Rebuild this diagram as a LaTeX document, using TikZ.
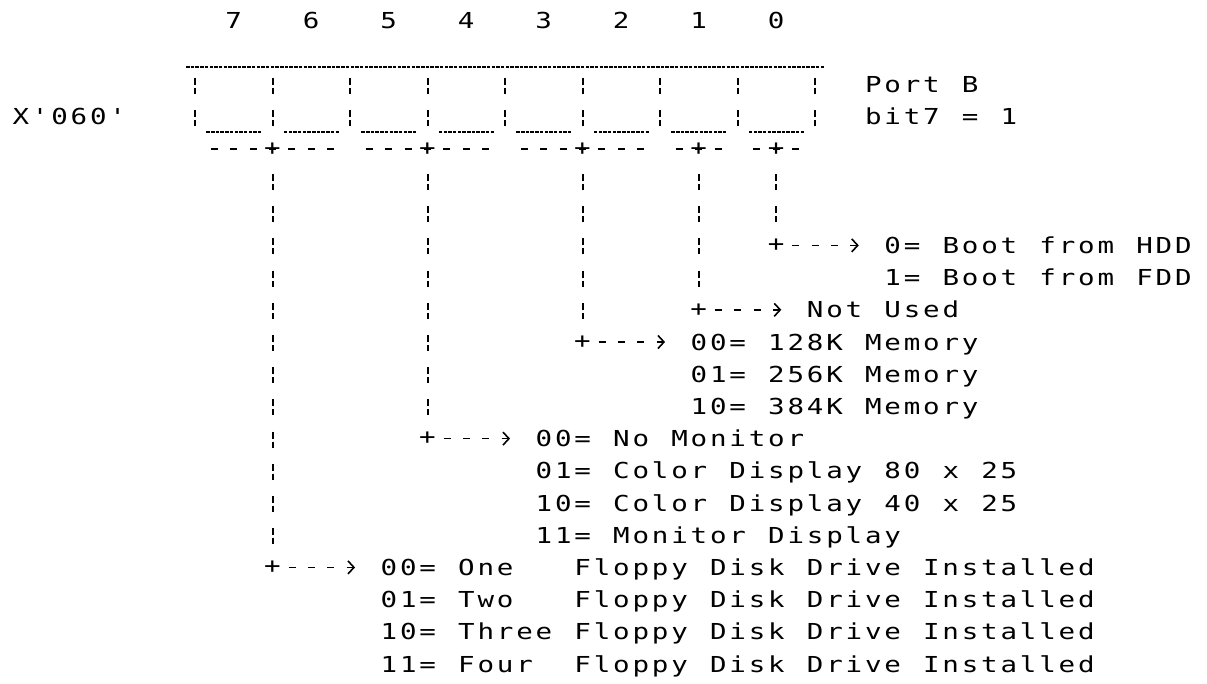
\documentclass[tikz,border=0pt]{standalone}
\usepackage{fontspec}
\newfontfamily\dotfont[FakeStretch=1.25]{DejaVu Sans Mono}
\usetikzlibrary{arrows.meta}
\ExplSyntaxOn
\dim_new:N \l_grid_pitch_dim
\dim_set:Nn \l_grid_pitch_dim {19.375pt}
\NewDocumentCommand \gridtext { m }
  {
    \str_map_inline:nn {#1}
      {
        \str_if_eq:nnTF {##1} {@}
          { \hbox_to_wd:nn { \l_grid_pitch_dim } { \hfil } }
          { \hbox_to_wd:nn { \l_grid_pitch_dim } { \hss ##1 \hss } }
      }
  }
\ExplSyntaxOff
\newcommand\gx[1]{(195+19.375*(#1))}
\newcommand\gy[1]{(20+32.2*(#1))}
\begin{document}
\begin{tikzpicture}[x=1pt,y=-1pt,
  txt/.style={anchor=base west, inner sep=0pt, font=\dotfont\fontsize{22}{26}\selectfont},
  glyph/.style={anchor=base, inner sep=0pt, font=\dotfont\fontsize{22}{26}\selectfont},
  plus/.style={inner sep=0pt, font=\dotfont\fontsize{22}{26}\selectfont},
  uline/.style={line width=1.4pt, dash pattern=on 3.5pt off 1.2pt},
  bar/.style={line width=2pt, dash pattern=on 7pt off 3pt on 6pt off 16.2pt},
  dashrow/.style={line width=1.6pt, dash pattern=on 7pt off 12.375pt},
  vconn/.style={bar, shorten <=18.8pt, shorten >=4pt},
  hconn/.style={line width=1.6pt, dash pattern=on 7pt off 12.375pt,
    shorten <=7.6pt, shorten >=24pt,
    -{Straight Barb[length=6pt,width=13pt,line width=1.6pt]}}]
\fill[white] (0,0) rectangle (1207,683);
\useasboundingbox (0,0) rectangle (1207,683);

% bit numbers
\foreach \d [count=\i from 0] in {7,6,5,4,3,2,1,0}
  \node[glyph] (d\d) at ({\gx{2+4*\i}},{\gy{0}+8}) {\d};

% address and port labels
\node[txt] (addr) at ({\gx{-9}-9.69},{\gy{3}+8}) {\gridtext{X'060'}};
\node[txt] (portb) at ({\gx{35}-9.69},{\gy{2}+8}) {\gridtext{Port B}};
\node[txt] (bitseven) at ({\gx{35}-9.69},{\gy{3}+8}) {\gridtext{bit7 = 1}};

% register box
\draw[uline] ({\gx{0}-9},67) -- ({\gx{32}+9},67);
\foreach \c in {0,...,7}
  \draw[uline] ({\gx{4*\c+1}-8},132) -- ({\gx{4*\c+3}+8},132);
\foreach \c in {0,...,8}
  \draw[bar] ({\gx{4*\c}},{\gy{2}-6.5}) -- ({\gx{4*\c}},{\gy{3}+9.5});

% field brackets
\node[plus] (p76) at ({\gx{4}},{\gy{4}}) {+};
\node[plus] (p54) at ({\gx{12}},{\gy{4}}) {+};
\node[plus] (p32) at ({\gx{20}},{\gy{4}}) {+};
\node[plus] (p1) at ({\gx{26}},{\gy{4}}) {+};
\node[plus] (p0) at ({\gx{30}},{\gy{4}}) {+};
\foreach \n in {p76,p54,p32}
  \draw[dashrow] ([xshift=-61.625pt]\n.center) -- ([xshift=61.625pt]\n.center);
\foreach \n in {p1,p0}
  \draw[dashrow] ([xshift=-22.875pt]\n.center) -- ([xshift=22.875pt]\n.center);

% corners
\node[plus] (c0) at ({\gx{30}},{\gy{7}}) {+};
\node[plus] (c1) at ({\gx{26}},{\gy{9}}) {+};
\node[plus] (c32) at ({\gx{20}},{\gy{10}}) {+};
\node[plus] (c54) at ({\gx{12}},{\gy{13}}) {+};
\node[plus] (c76) at ({\gx{4}},{\gy{17}}) {+};

% descriptions
\node[txt] (t0a) at ({\gx{36}-9.69},{\gy{7}+8}) {\gridtext{0= Boot from HDD}};
\node[txt] (t0b) at ({\gx{36}-9.69},{\gy{8}+8}) {\gridtext{1= Boot from FDD}};
\node[txt] (t1) at ({\gx{32}-9.69},{\gy{9}+8}) {\gridtext{Not Used}};
\node[txt] (t32a) at ({\gx{26}-9.69},{\gy{10}+8}) {\gridtext{00= 128K Memory}};
\node[txt] (t32b) at ({\gx{26}-9.69},{\gy{11}+8}) {\gridtext{01= 256K Memory}};
\node[txt] (t32c) at ({\gx{26}-9.69},{\gy{12}+8}) {\gridtext{10= 384K Memory}};
\node[txt] (t54a) at ({\gx{18}-9.69},{\gy{13}+8}) {\gridtext{00= No Monitor}};
\node[txt] (t54b) at ({\gx{18}-9.69},{\gy{14}+8}) {\gridtext{01= Color Display 80 x 25}};
\node[txt] (t54c) at ({\gx{18}-9.69},{\gy{15}+8}) {\gridtext{10= Color Display 40 x 25}};
\node[txt] (t54d) at ({\gx{18}-9.69},{\gy{16}+8}) {\gridtext{11= Monitor Display}};
\node[txt] (t76a) at ({\gx{10}-9.69},{\gy{17}+8}) {\gridtext{00= One@@@Floppy Disk Drive Installed}};
\node[txt] (t76b) at ({\gx{10}-9.69},{\gy{18}+8}) {\gridtext{01= Two@@@Floppy Disk Drive Installed}};
\node[txt] (t76c) at ({\gx{10}-9.69},{\gy{19}+8}) {\gridtext{10= Three@Floppy Disk Drive Installed}};
\node[txt] (t76d) at ({\gx{10}-9.69},{\gy{20}+8}) {\gridtext{11= Four@@Floppy Disk Drive Installed}};

% connectors
\draw[vconn] (p0.south) -- (c0.north);
\draw[vconn] (p1.south) -- (c1.north);
\draw[vconn] (p32.south) -- (c32.north);
\draw[vconn] (p54.south) -- (c54.north);
\draw[vconn] (p76.south) -- (c76.north);
\draw[hconn] (c0.east) -- (c0.east -| t0a.west);
\draw[hconn] (c1.east) -- (c1.east -| t1.west);
\draw[hconn] (c32.east) -- (c32.east -| t32a.west);
\draw[hconn] (c54.east) -- (c54.east -| t54a.west);
\draw[hconn] (c76.east) -- (c76.east -| t76a.west);
\end{tikzpicture}
\end{document}
